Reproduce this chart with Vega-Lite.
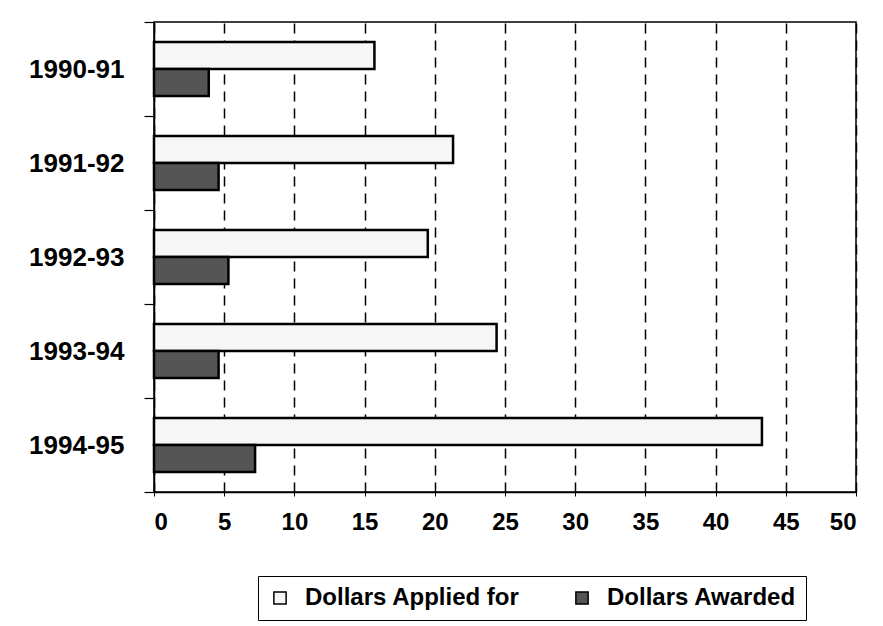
{
  "$schema": "https://vega.github.io/schema/vega-lite/v6.json",
  "width": 702,
  "height": 470,
  "autosize": "none",
  "padding": {"left": 154, "top": 22, "right": 27, "bottom": 134},
  "background": "white",
  "config": {
    "view": {"stroke": "black", "strokeWidth": 1.5},
    "font": "Liberation Sans"
  },
  "data": {
    "values": [
      {"year": "1990-91", "series": "Dollars Applied for", "value": 15.7},
      {"year": "1990-91", "series": "Dollars Awarded", "value": 3.9},
      {"year": "1991-92", "series": "Dollars Applied for", "value": 21.3},
      {"year": "1991-92", "series": "Dollars Awarded", "value": 4.6},
      {"year": "1992-93", "series": "Dollars Applied for", "value": 19.5},
      {"year": "1992-93", "series": "Dollars Awarded", "value": 5.3},
      {"year": "1993-94", "series": "Dollars Applied for", "value": 24.4},
      {"year": "1993-94", "series": "Dollars Awarded", "value": 4.6},
      {"year": "1994-95", "series": "Dollars Applied for", "value": 43.3},
      {"year": "1994-95", "series": "Dollars Awarded", "value": 7.2}
    ]
  },
  "mark": {"type": "bar", "stroke": "black", "strokeWidth": 2.5},
  "encoding": {
    "y": {
      "field": "year",
      "type": "nominal",
      "sort": null,
      "scale": {"paddingInner": 0, "paddingOuter": 0},
      "axis": {
        "title": null,
        "tickBand": "extent",
        "labelFontSize": 26,
        "labelFontWeight": "bold",
        "labelColor": "black",
        "domainColor": "black",
        "domainWidth": 1.5,
        "tickColor": "black",
        "tickWidth": 1.2,
        "tickSize": 10,
        "labelPadding": 20
      }
    },
    "yOffset": {
      "field": "series",
      "sort": ["Dollars Applied for", "Dollars Awarded"],
      "scale": {"paddingInner": 0, "paddingOuter": 0.74}
    },
    "x": {
      "field": "value",
      "type": "quantitative",
      "scale": {"domain": [0, 50], "nice": false},
      "axis": {
        "title": null,
        "values": [0, 5, 10, 15, 20, 25, 30, 35, 40, 45, 50],
        "grid": true,
        "gridDash": [10, 7],
        "gridColor": "black",
        "gridWidth": 1.5,
        "gridOpacity": 1,
        "domainColor": "black",
        "domainWidth": 1.5,
        "tickColor": "black",
        "tickSize": 4,
        "labelFontSize": 24,
        "labelFontWeight": "bold",
        "labelColor": "black",
        "labelPadding": 14
      }
    },
    "color": {
      "field": "series",
      "type": "nominal",
      "scale": {"domain": ["Dollars Applied for", "Dollars Awarded"], "range": ["#f6f6f6", "#555555"]},
      "legend": {
        "title": null,
        "orient": "none",
        "direction": "horizontal",
        "legendX": 104,
        "legendY": 554,
        "strokeColor": "black",
        "padding": 10,
        "symbolType": "square",
        "symbolSize": 150,
        "symbolStrokeColor": "black",
        "symbolStrokeWidth": 1.5,
        "labelFontSize": 24,
        "labelFontWeight": "bold",
        "labelColor": "black",
        "labelLimit": 0,
        "labelOffset": 13,
        "columnPadding": 50
      }
    }
  }
}
